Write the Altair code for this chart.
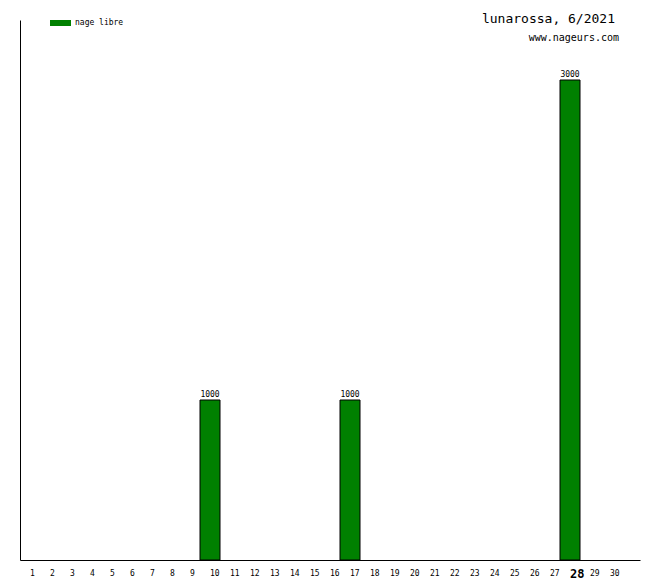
import altair as alt
import pandas as pd

days = list(range(1, 31))
values = [0]*30
values[9] = 1000
values[16] = 1000
values[27] = 3000
series_name = "nage libre"
title_text = "lunarossa, 6/2021"
subtitle_text = "www.nageurs.com"
highlight_day = 28

df = pd.DataFrame({"day": days, "value": values})
bars_df = df[df["value"] > 0]

FONT = "DejaVu Sans Mono"
xdomain = days + [31]
xscale = alt.Scale(domain=xdomain, paddingInner=0, paddingOuter=0)
yscale = alt.Scale(domain=[0, 3375], nice=False)

xenc = alt.X("day:O", scale=xscale,
             axis=alt.Axis(title=None, ticks=False, domainColor="black", labelAngle=0,
                           labelAlign="left", labelBaseline="middle", labelPadding=13,
                           labelFont=FONT, labelColor="black",
                           labelExpr="datum.value == 31 ? '' : datum.label",
                           labelFontSize=alt.condition(f"datum.value == {highlight_day}", alt.value(12), alt.value(8)),
                           labelFontWeight=alt.condition(f"datum.value == {highlight_day}", alt.value("bold"), alt.value("normal")),
                           grid=False))
yenc = alt.Y("value:Q", scale=yscale,
             axis=alt.Axis(title=None, ticks=False, labels=False, grid=False, domainColor="black"))

base = alt.Chart(bars_df)
bars = base.mark_bar(color="green", stroke="black", strokeWidth=1, width=20).encode(x=xenc, y=yenc)
labels = base.mark_text(font=FONT, fontSize=8, baseline="bottom", dy=-1, color="black").encode(
    x=xenc, y=yenc, text="value:Q")

title = alt.Chart(pd.DataFrame({"t": [title_text]})).mark_text(
    font=FONT, fontSize=13, align="right", baseline="alphabetic", color="black").encode(
    x=alt.value(595), y=alt.value(3), text="t:N")
subtitle = alt.Chart(pd.DataFrame({"t": [subtitle_text]})).mark_text(
    font=FONT, fontSize=10, align="right", baseline="alphabetic", color="black").encode(
    x=alt.value(599), y=alt.value(21), text="t:N")
leg_rect = alt.Chart(pd.DataFrame({"t": [series_name]})).mark_rect(color="green").encode(
    x=alt.value(30), x2=alt.value(51), y=alt.value(0), y2=alt.value(6))
leg_text = alt.Chart(pd.DataFrame({"t": [series_name]})).mark_text(
    font=FONT, fontSize=8, align="left", baseline="middle", color="black").encode(
    x=alt.value(55), y=alt.value(3), text="t:N")

chart = alt.layer(bars, labels, title, subtitle, leg_rect, leg_text).properties(
    width=620, height=540, padding={"left": 12, "top": 12, "right": 12, "bottom": 20},
    autosize=alt.AutoSizeParams(type="none"),
    background="white",
).configure_view(stroke=None)

chart.save("out.html", embed_options={"renderer": "svg", "actions": False})
